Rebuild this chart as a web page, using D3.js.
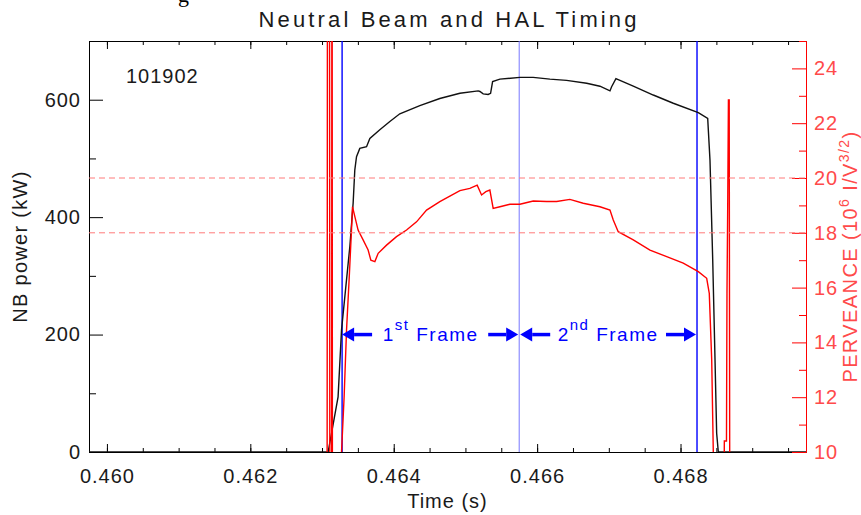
<!DOCTYPE html>
<html>
<head>
<meta charset="utf-8">
<script src="https://cdn.jsdelivr.net/npm/d3@7"></script>
<style>
  body { margin: 0; background: #fff; }
  svg { display: block; font-family: "Liberation Sans", Arial, sans-serif; }
</style>
</head>
<body>
<div id="chart"></div>
<script>
// NB power trace (kW) vs time (s)
const nbTime = [0.45975, 0.463085, 0.463224, 0.463272, 0.463388, 0.463434, 0.463457, 0.463481, 0.463527,
  0.463621, 0.463667, 0.463806, 0.463946, 0.464085, 0.464364, 0.464643, 0.464923, 0.465178, 0.465202,
  0.465248, 0.465317, 0.465351, 0.465379, 0.465481, 0.46576, 0.465945, 0.466178, 0.466411, 0.466691,
  0.466876, 0.467016, 0.467039, 0.467099, 0.467341, 0.46762, 0.467899, 0.468248, 0.468379, 0.468411,
  0.468449, 0.468481, 0.468504, 0.468527, 0.46975];
const nbPower = [0, 0, 94, 208, 350, 424, 480, 503, 517,
  520, 534, 549, 563, 576, 590, 602, 611, 615, 614,
  610, 609, 611, 631, 635, 638, 638, 635, 633, 628,
  623, 615, 622, 636, 623, 608, 594, 578, 568, 497,
  327, 157, 32, 0, 0];

// perveance trace (1e-6 A/V^1.5)
const pervTime = [0.463071, 0.463078, 0.463102, 0.463109, 0.463134, 0.463139, 0.463145, 0.463272,
  0.463308, 0.463342, 0.463378, 0.463411, 0.463425, 0.463457, 0.463503, 0.463573, 0.463643, 0.463681,
  0.463737, 0.463783, 0.4639, 0.464039, 0.464179, 0.464318, 0.464458, 0.464643, 0.464783, 0.464923,
  0.465062, 0.465164, 0.465225, 0.465285, 0.465341, 0.465387, 0.465481, 0.46562, 0.46576, 0.465945,
  0.466132, 0.466272, 0.466457, 0.466643, 0.466876, 0.467016, 0.467062, 0.467131, 0.467341, 0.467574,
  0.467807, 0.468038, 0.468248, 0.468365, 0.468401, 0.468435, 0.468457, 0.468464, 0.468606, 0.468611,
  0.468641, 0.468648, 0.468659, 0.468668, 0.468679, 0.468687];
const pervValue = [8, 40, 40, 8, 8, 40, 8, 10.0,
  12.0, 14.45, 16.3, 18.1, 18.95, 18.6, 18.1, 17.74, 17.37, 17.0,
  16.95, 17.25, 17.55, 17.86, 18.1, 18.4, 18.83, 19.14, 19.34, 19.54,
  19.62, 19.74, 19.38, 19.5, 19.56, 18.89, 18.95, 19.04, 19.04, 19.16,
  19.14, 19.14, 19.22, 19.08, 18.95, 18.83, 18.47, 18.04, 17.74, 17.37,
  17.13, 16.89, 16.58, 16.34, 15.79, 13.36, 10.0, 8, 8, 10.4,
  10.4, 15.8, 19.3, 22.85, 22.85, 8];

const frameTimes = [0.46328, 0.46575, 0.46823];
const frameLabels = [["1", "st"], ["2", "nd"]];
const perveanceLimits = [18, 20];
const shotNumber = "101902";

const xMajorTicks = [0.460, 0.462, 0.464, 0.466, 0.468];
const xMinorTicks = d3.range(0.46, 0.4697, 0.0005);
const yMajorTicks = [0, 200, 400, 600];
const yMinorTicks = [100, 300, 500, 700];
const y2MajorTicks = [10, 12, 14, 16, 18, 20, 22, 24];
const y2MinorTicks = [11, 13, 15, 17, 19, 21, 23, 25];

const margin = {top: 41, right: 55, bottom: 63, left: 89};
const width = 861 - margin.left - margin.right;
const height = 515 - margin.top - margin.bottom;

const RED = "#ff0000", RED_TXT = "#ff4a4a", BLUE = "#0000ff";

const svg = d3.select("#chart").append("svg")
  .attr("width", 861).attr("height", 515);

// bit of caption cut off at the top of the figure
svg.append("text").attr("x", 178).attr("y", 1.5)
  .style("font-family", "'Liberation Serif', serif").style("font-size", "22px").text("g");

svg.append("text")
  .attr("x", margin.left + width / 2).attr("y", 27)
  .attr("text-anchor", "middle")
  .attr("textLength", 378).attr("lengthAdjust", "spacing")
  .attr("fill", "#1a1a1a")
  .style("font-size", "22px")
  .text("Neutral Beam and HAL Timing");

const plot = svg.append("g")
  .attr("transform", "translate(" + margin.left + "," + margin.top + ")");

plot.append("clipPath").attr("id", "clip")
  .append("rect").attr("width", width).attr("height", height);

const x = d3.scaleLinear().domain([0.45975, 0.46975]).range([0, width]);
const y = d3.scaleLinear().domain([0, 700]).range([height, 0]);
const y2 = d3.scaleLinear().domain([10, 25]).range([height, 0]);

// axes
function styleAxis(g, color) {
  g.selectAll("line").attr("stroke", color);
  g.selectAll("path").attr("stroke", color);
  g.selectAll("text").attr("fill", color === RED ? RED_TXT : "#1a1a1a")
    .style("font-size", "20px").style("letter-spacing", "1px")
    .style("font-family", "'Liberation Sans', Arial, sans-serif");
}

plot.append("g").attr("transform", "translate(0," + height + ")")
  .call(d3.axisBottom(x).tickValues(xMinorTicks).tickSize(-4).tickSizeOuter(0).tickFormat(""))
  .call(g => styleAxis(g, "#000"));
plot.append("g").attr("transform", "translate(0," + height + ")")
  .call(d3.axisBottom(x).tickValues(xMajorTicks).tickSize(-8).tickSizeOuter(0)
    .tickPadding(17).tickFormat(d3.format(".3f")))
  .call(g => styleAxis(g, "#000"));
plot.append("g")
  .call(d3.axisTop(x).tickValues(xMinorTicks).tickSize(-4).tickSizeOuter(0).tickFormat(""))
  .call(g => styleAxis(g, "#000"));
plot.append("g")
  .call(d3.axisTop(x).tickValues(xMajorTicks).tickSize(-8).tickSizeOuter(0).tickFormat(""))
  .call(g => styleAxis(g, "#000"));

plot.append("g")
  .call(d3.axisLeft(y).tickValues(yMinorTicks).tickSize(-7).tickSizeOuter(0).tickFormat(""))
  .call(g => styleAxis(g, "#000"));
plot.append("g")
  .call(d3.axisLeft(y).tickValues(yMajorTicks).tickSize(-14).tickSizeOuter(0).tickPadding(8))
  .call(g => styleAxis(g, "#000"));

plot.append("g").attr("transform", "translate(" + width + ",0)")
  .call(d3.axisRight(y2).tickValues(y2MinorTicks).tickSize(-7).tickSizeOuter(0).tickFormat(""))
  .call(g => styleAxis(g, RED));
plot.append("g").attr("transform", "translate(" + width + ",0)")
  .call(d3.axisRight(y2).tickValues(y2MajorTicks).tickSize(-14).tickSizeOuter(0).tickPadding(8))
  .call(g => styleAxis(g, RED));

// axis titles
svg.append("text")
  .attr("transform", "translate(27," + (margin.top + height / 2) + ") rotate(-90)")
  .attr("text-anchor", "middle")
  .attr("fill", "#1a1a1a")
  .style("font-size", "20px").style("letter-spacing", "1.3px")
  .text("NB power (kW)");

svg.append("text")
  .attr("x", margin.left + width / 2).attr("y", 508)
  .attr("text-anchor", "middle")
  .attr("fill", "#1a1a1a")
  .style("font-size", "20px").style("letter-spacing", "1px")
  .text("Time (s)");

const rt = svg.append("text")
  .attr("transform", "translate(857," + (margin.top + height / 2 + 10) + ") rotate(-90)")
  .attr("text-anchor", "middle")
  .attr("fill", RED_TXT)
  .style("font-size", "20px").style("letter-spacing", "1.4px");
rt.append("tspan").text("PERVEANCE (10");
rt.append("tspan").attr("dy", -8).style("font-size", "14px").text("6");
rt.append("tspan").attr("dy", 8).text(" I/V");
rt.append("tspan").attr("dy", -8).style("font-size", "14px").text("3/2");
rt.append("tspan").attr("dy", 8).text(")");

// shot number
plot.append("text").attr("x", 37).attr("y", 42)
  .attr("fill", "#1a1a1a")
  .style("font-size", "20px").style("letter-spacing", "1px")
  .text(shotNumber);

// data
const body = plot.append("g").attr("clip-path", "url(#clip)");

body.selectAll(".frame-line")
  .data(frameTimes)
  .enter().append("line")
  .attr("class", "frame-line")
  .attr("x1", d => x(d)).attr("x2", d => x(d))
  .attr("y1", 0).attr("y2", height)
  .attr("stroke", (d, i) => i === 1 ? "#7777ff" : BLUE)
  .attr("stroke-width", (d, i) => i === 1 ? 1 : 1.4);

const nbData = nbTime.map((t, i) => [t, nbPower[i]]);
const pervData = pervTime.map((t, i) => [t, pervValue[i]]);

body.append("path").datum(nbData)
  .attr("fill", "none").attr("stroke", "#111").attr("stroke-width", 1.4)
  .attr("d", d3.line().x(d => x(d[0])).y(d => y(d[1])));

body.append("path").datum(pervData)
  .attr("fill", "none").attr("stroke", RED).attr("stroke-width", 1.4)
  .attr("d", d3.line().x(d => x(d[0])).y(d => y2(d[1])));

body.selectAll(".limit")
  .data(perveanceLimits)
  .enter().append("line")
  .attr("class", "limit")
  .attr("x1", 0).attr("x2", width)
  .attr("y1", d => y2(d)).attr("y2", d => y2(d))
  .attr("stroke", "#ff7b7b").attr("stroke-width", 1)
  .attr("stroke-dasharray", "6,4");

// frame arrows + labels
const ay = y(200);
function arrow(tipX, dir) {
  // dir = -1 points left, +1 points right
  const headLen = 12, half = 7, shaft = 30;
  const baseX = tipX - dir * headLen;
  plot.append("line")
    .attr("x1", tipX - dir * shaft).attr("x2", baseX)
    .attr("y1", ay).attr("y2", ay)
    .attr("stroke", BLUE).attr("stroke-width", 3.5);
  plot.append("path")
    .attr("d", "M" + tipX + "," + ay + "L" + baseX + "," + (ay - half) + "L" + baseX + "," + (ay + half) + "Z")
    .attr("fill", BLUE);
}

frameLabels.forEach((lab, i) => {
  const x0 = x(frameTimes[i]), x1 = x(frameTimes[i + 1]);
  arrow(x0 + (i === 0 ? 0 : 1), -1);
  arrow(x1 - 1, 1);
  const t = plot.append("text")
    .attr("x", (x0 + x1) / 2).attr("y", ay + 6)
    .attr("text-anchor", "middle").attr("fill", BLUE)
    .style("font-size", "19px").style("letter-spacing", "1.5px");
  t.append("tspan").text(lab[0]);
  t.append("tspan").attr("dy", -11).style("font-size", "15px").text(lab[1]);
  t.append("tspan").attr("dy", 11).text(" Frame");
});
</script>
</body>
</html>
